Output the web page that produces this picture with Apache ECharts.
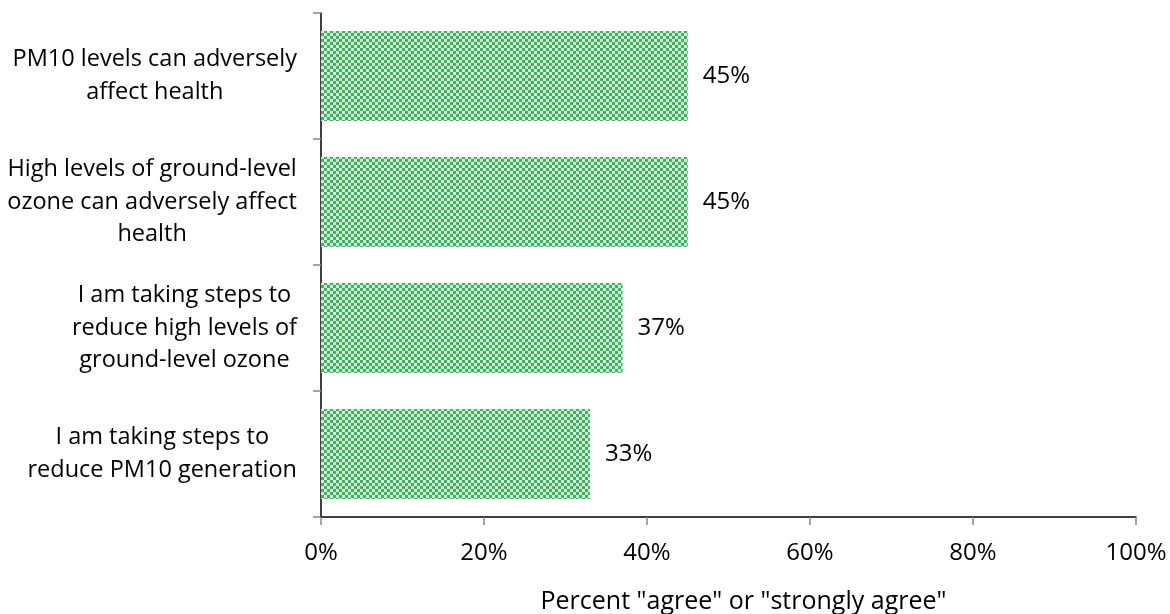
<!DOCTYPE html>
<html>
<head>
<meta charset="utf-8">
<script src="https://cdn.jsdelivr.net/npm/echarts@6/dist/echarts.min.js"></script>
<style>
  html, body { margin: 0; padding: 0; background: #ffffff; }
  #chart { width: 1170px; height: 614px; }
</style>
</head>
<body>
<div id="chart"></div>
<script>
// Survey statements (top to bottom) and share agreeing, in percent
const statements = [
  'PM10 levels can adversely\naffect health',
  'High levels of ground-level\nozone can adversely affect\nhealth',
  'I am taking steps to\nreduce high levels of\nground-level ozone',
  'I am taking steps to\nreduce PM10 generation'
];
const agreePct = [45, 45, 37, 33];
const xTicks = [0, 20, 40, 60, 80, 100];
const xTitle = 'Percent "agree" or "strongly agree"';

const FONT = '"Open Sans", Lato, sans-serif';

// Green checkerboard fill tile
function checkerTile() {
  const c = document.createElement('canvas');
  const cell = 3;
  c.width = cell * 2;
  c.height = cell * 2;
  const g = c.getContext('2d');
  g.fillStyle = '#c8f5c8';
  g.fillRect(0, 0, c.width, c.height);
  g.fillStyle = '#4aa96f';
  g.fillRect(0, 0, cell, cell);
  g.fillRect(cell, cell, cell, cell);
  return c;
}

const chart = echarts.init(document.getElementById('chart'), null, { renderer: 'canvas' });

chart.setOption({
  animation: false,
  backgroundColor: '#ffffff',
  grid: { left: 321, right: 34, top: 13, bottom: 97, containLabel: false, outerBoundsMode: 'none' },
  xAxis: {
    type: 'value',
    min: xTicks[0],
    max: xTicks[xTicks.length - 1],
    interval: xTicks[1] - xTicks[0],
    name: xTitle,
    nameLocation: 'middle',
    nameGap: 72,
    nameTextStyle: { fontFamily: FONT, fontSize: 25, color: '#000', padding: [0, 0, 0, 30] },
    axisLine: { show: true, lineStyle: { color: '#000', width: 1.5 } },
    axisTick: { show: true, length: 8, lineStyle: { color: '#888', width: 1.5 } },
    axisLabel: {
      margin: 24,
      fontFamily: FONT,
      fontSize: 24,
      color: '#000',
      formatter: v => v + '%'
    },
    splitLine: { show: false }
  },
  yAxis: {
    type: 'category',
    inverse: true,
    data: statements,
    axisLine: { show: true, lineStyle: { color: '#000', width: 1.5 } },
    axisTick: { show: true, length: 8, lineStyle: { color: '#888', width: 1.5 } },
    axisLabel: {
      margin: 24,
      align: 'right',
      fontFamily: FONT,
      fontSize: 23.5,
      color: '#000',
      lineHeight: 32.5,
      formatter: v => v.split('\n').map(s => '{c|' + s + '}').join('\n'),
      rich: {
        c: { align: 'center', fontFamily: FONT, fontSize: 23.5, lineHeight: 32.5, color: '#000' }
      }
    }
  },
  series: [{
    type: 'bar',
    data: agreePct,
    barCategoryGap: '28.6%',
    itemStyle: { color: { image: checkerTile(), repeat: 'repeat' } },
    label: {
      show: true,
      position: 'right',
      distance: 15,
      fontFamily: FONT,
      fontSize: 24,
      color: '#000',
      formatter: p => p.value + '%'
    }
  }]
});
</script>
</body>
</html>
